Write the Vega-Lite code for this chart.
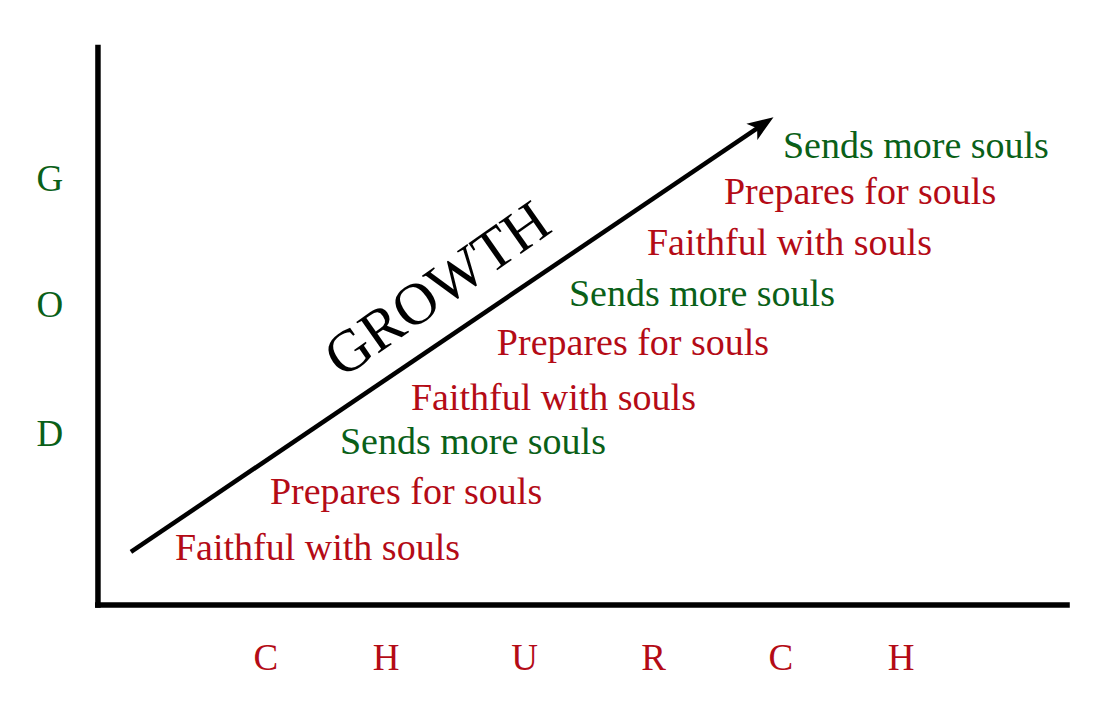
{
  "$schema": "https://vega.github.io/schema/vega-lite/v6.json",
  "width": 1095,
  "height": 708,
  "autosize": {"type": "fit", "contains": "padding"},
  "padding": 0,
  "background": "white",
  "view": {"stroke": null},
  "config": {"text": {"font": "Liberation Serif"}},
  "datasets": {
    "axes": [
      {"x": -0.3, "y": 0, "x2": 100.2, "y2": 0},
      {"x": 0, "y": -0.5, "x2": 0, "y2": 100}
    ],
    "arrow": [
      {"x": 3.4, "y": 9.46, "order": 1},
      {"x": 68.3, "y": 85.5, "order": 2}
    ],
    "head": [
      {"x": 68.3, "y": 85.5}
    ],
    "steps": [
      {"text": "Faithful with souls", "x": 7.94, "y": 8.04, "kind": "red"},
      {"text": "Prepares for souls", "x": 17.73, "y": 18.04, "kind": "red"},
      {"text": "Sends more souls", "x": 24.95, "y": 26.96, "kind": "green"},
      {"text": "Faithful with souls", "x": 32.27, "y": 34.82, "kind": "red"},
      {"text": "Prepares for souls", "x": 41.13, "y": 44.64, "kind": "red"},
      {"text": "Sends more souls", "x": 48.56, "y": 53.39, "kind": "green"},
      {"text": "Faithful with souls", "x": 56.6, "y": 62.5, "kind": "red"},
      {"text": "Prepares for souls", "x": 64.54, "y": 71.61, "kind": "red"},
      {"text": "Sends more souls", "x": 70.62, "y": 79.82, "kind": "green"}
    ],
    "letters": [
      {"text": "G", "x": -4.95, "y": 73.9, "kind": "green"},
      {"text": "O", "x": -4.95, "y": 51.4, "kind": "green"},
      {"text": "D", "x": -4.95, "y": 28.4, "kind": "green"},
      {"text": "C", "x": 17.3, "y": -11.6, "kind": "red"},
      {"text": "H", "x": 29.7, "y": -11.6, "kind": "red"},
      {"text": "U", "x": 44.0, "y": -11.6, "kind": "red"},
      {"text": "R", "x": 57.3, "y": -11.6, "kind": "red"},
      {"text": "C", "x": 70.4, "y": -11.6, "kind": "red"},
      {"text": "H", "x": 82.8, "y": -11.6, "kind": "red"}
    ],
    "label": [
      {"text": "GROWTH", "x": 36.1, "y": 53.6}
    ]
  },
  "encoding": {
    "x": {"field": "x", "type": "quantitative", "axis": null,
          "scale": {"domain": [-10.1, 102.8], "nice": false, "zero": false}},
    "y": {"field": "y", "type": "quantitative", "axis": null,
          "scale": {"domain": [-18.4, 108.0], "nice": false, "zero": false}}
  },
  "layer": [
    {
      "data": {"name": "axes"},
      "mark": {"type": "rule", "color": "black", "strokeWidth": 5.5},
      "encoding": {"x2": {"field": "x2"}, "y2": {"field": "y2"}}
    },
    {
      "data": {"name": "arrow"},
      "mark": {"type": "line", "color": "black", "strokeWidth": 4.5},
      "encoding": {"order": {"field": "order"}}
    },
    {
      "data": {"name": "head"},
      "mark": {"type": "point", "shape": "M0,-1 L0.62,0.65 L0,0.25 L-0.62,0.65 Z",
               "angle": 56, "size": 1000, "filled": true, "color": "black", "opacity": 1}
    },
    {
      "data": {"name": "steps"},
      "mark": {"type": "text", "align": "left", "baseline": "alphabetic", "fontSize": 38},
      "encoding": {
        "text": {"field": "text"},
        "color": {"field": "kind", "type": "nominal", "legend": null,
                  "scale": {"domain": ["red", "green"], "range": ["#b40b16", "#0a6018"]}}
      }
    },
    {
      "data": {"name": "letters"},
      "mark": {"type": "text", "align": "center", "baseline": "alphabetic", "fontSize": 37},
      "encoding": {
        "text": {"field": "text"},
        "color": {"field": "kind", "type": "nominal", "legend": null,
                  "scale": {"domain": ["red", "green"], "range": ["#b40b16", "#0a6018"]}}
      }
    },
    {
      "data": {"name": "label"},
      "mark": {"type": "text", "align": "center", "baseline": "alphabetic",
               "fontSize": 59, "angle": -35, "color": "black"},
      "encoding": {"text": {"field": "text"}}
    }
  ]
}
